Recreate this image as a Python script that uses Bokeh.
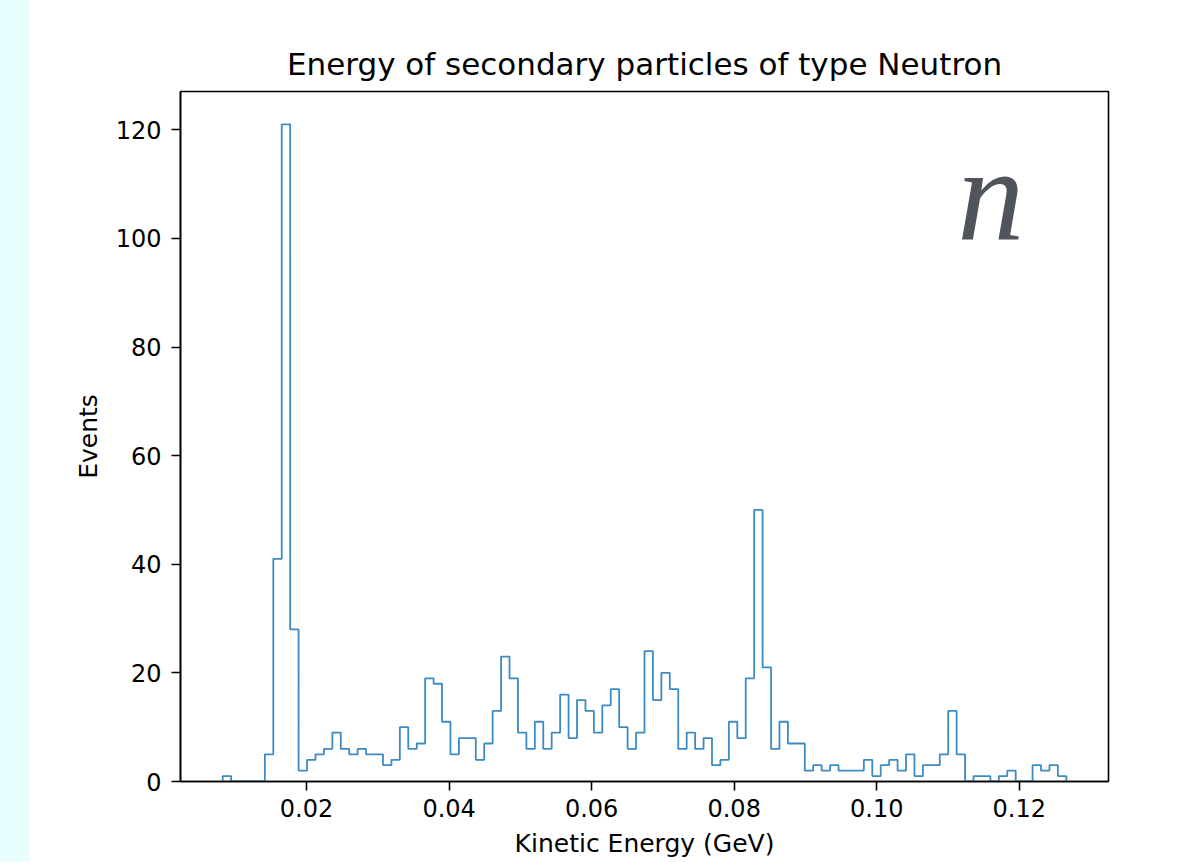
import numpy as np
from bokeh.plotting import figure
from bokeh.models import Range1d, FixedTicker, Label, Div
from bokeh.layouts import row
from bokeh.embed import file_html
from bokeh.resources import INLINE

# ---- data ----
data_min = 0.00823          # lowest kinetic energy (GeV), left edge of first bin
data_max = 0.12660          # highest kinetic energy (GeV), right edge of last bin
n_bins = 100
counts = [1, 0, 0, 0, 0, 5, 41, 121, 28, 2,
          4, 5, 6, 9, 6, 5, 6, 5, 5, 3,
          4, 10, 6, 7, 19, 18, 11, 5, 8, 8,
          4, 7, 13, 23, 19, 9, 6, 11, 6, 9,
          16, 8, 15, 13, 9, 14, 17, 10, 6, 9,
          24, 15, 20, 17, 6, 9, 6, 8, 3, 4,
          11, 8, 19, 50, 21, 6, 11, 7, 7, 2,
          3, 2, 3, 2, 2, 2, 4, 1, 3, 4,
          2, 5, 1, 3, 3, 5, 13, 5, 0, 1,
          1, 0, 1, 2, 0, 0, 3, 2, 3, 1]
x_ticks = [0.02, 0.04, 0.06, 0.08, 0.10, 0.12]
x_tick_labels = ["0.02", "0.04", "0.06", "0.08", "0.10", "0.12"]
y_ticks = [0, 20, 40, 60, 80, 100, 120]
y_tick_labels = ["0", "20", "40", "60", "80", "100", "120"]
title_text = "Energy of secondary particles of type Neutron"
x_label = "Kinetic Energy (GeV)"
y_label = "Events"
corner_symbol = "n"

# ---- histogram outline (matplotlib histtype='step') ----
edges = np.linspace(data_min, data_max, n_bins + 1)
xs = [edges[0]]
ys = [0]
for i, c in enumerate(counts):
    xs += [edges[i], edges[i + 1]]
    ys += [c, c]
xs.append(edges[-1])
ys.append(0)

span = data_max - data_min
x_lo, x_hi = data_min - 0.05 * span, data_max + 0.05 * span
y_hi = max(counts) * 1.05

FONT = "DejaVu Sans"

fig = figure(width=1155, height=862,
             x_range=Range1d(x_lo, x_hi), y_range=Range1d(0, y_hi),
             output_backend="svg", toolbar_location=None,
             min_border_left=150, min_border_right=77,
             min_border_top=91, min_border_bottom=81,
             title=title_text)

fig.line(xs, ys, line_color="#3d8bc4", line_width=1.8)

fig.title.align = "center"
fig.title.text_font = FONT
fig.title.text_font_size = "31px"
fig.title.text_font_style = "normal"
fig.title.text_color = "black"
fig.title.standoff = 19

fig.grid.visible = False
fig.outline_line_color = "black"
fig.outline_line_width = 1.6
fig.outline_line_alpha = 1.0
fig.background_fill_color = "white"
fig.border_fill_color = "white"

fig.xaxis.ticker = FixedTicker(ticks=x_ticks, minor_ticks=[])
fig.xaxis.major_label_overrides = {t: l for t, l in zip(x_ticks, x_tick_labels)}
fig.yaxis.ticker = FixedTicker(ticks=y_ticks, minor_ticks=[])
fig.yaxis.major_label_overrides = {t: l for t, l in zip(y_ticks, y_tick_labels)}
fig.xaxis.axis_label = x_label
fig.yaxis.axis_label = y_label

for ax in (fig.xaxis, fig.yaxis):
    ax.axis_line_color = "black"
    ax.axis_line_width = 1.6
    ax.major_tick_line_color = "black"
    ax.major_tick_line_width = 1.6
    ax.major_tick_out = 9
    ax.major_tick_in = 0
    ax.minor_tick_line_color = None
    ax.major_label_text_font = FONT
    ax.major_label_text_font_size = "24px"
    ax.major_label_text_color = "black"
    ax.axis_label_text_font = FONT
    ax.axis_label_text_font_size = "25px"
    ax.axis_label_text_font_style = "normal"
    ax.axis_label_text_color = "black"
fig.xaxis.major_label_standoff = 8
fig.yaxis.major_label_standoff = 10
fig.xaxis.axis_label_standoff = 9
fig.yaxis.axis_label_standoff = 10

fig.add_layout(Label(x=0.1113, y=108.2, text=corner_symbol,
                     text_font="Liberation Serif", text_font_style="italic",
                     text_font_size="134px", text_color="#50545b",
                     text_baseline="alphabetic", text_align="left"))

strip = Div(text="", width=38, height=862, margin=(0, 0, 0, -8),
            styles={"background-color": "#e8fdfd"})

p = row(strip, fig)

open("out.html", "w").write(file_html(p, INLINE))
